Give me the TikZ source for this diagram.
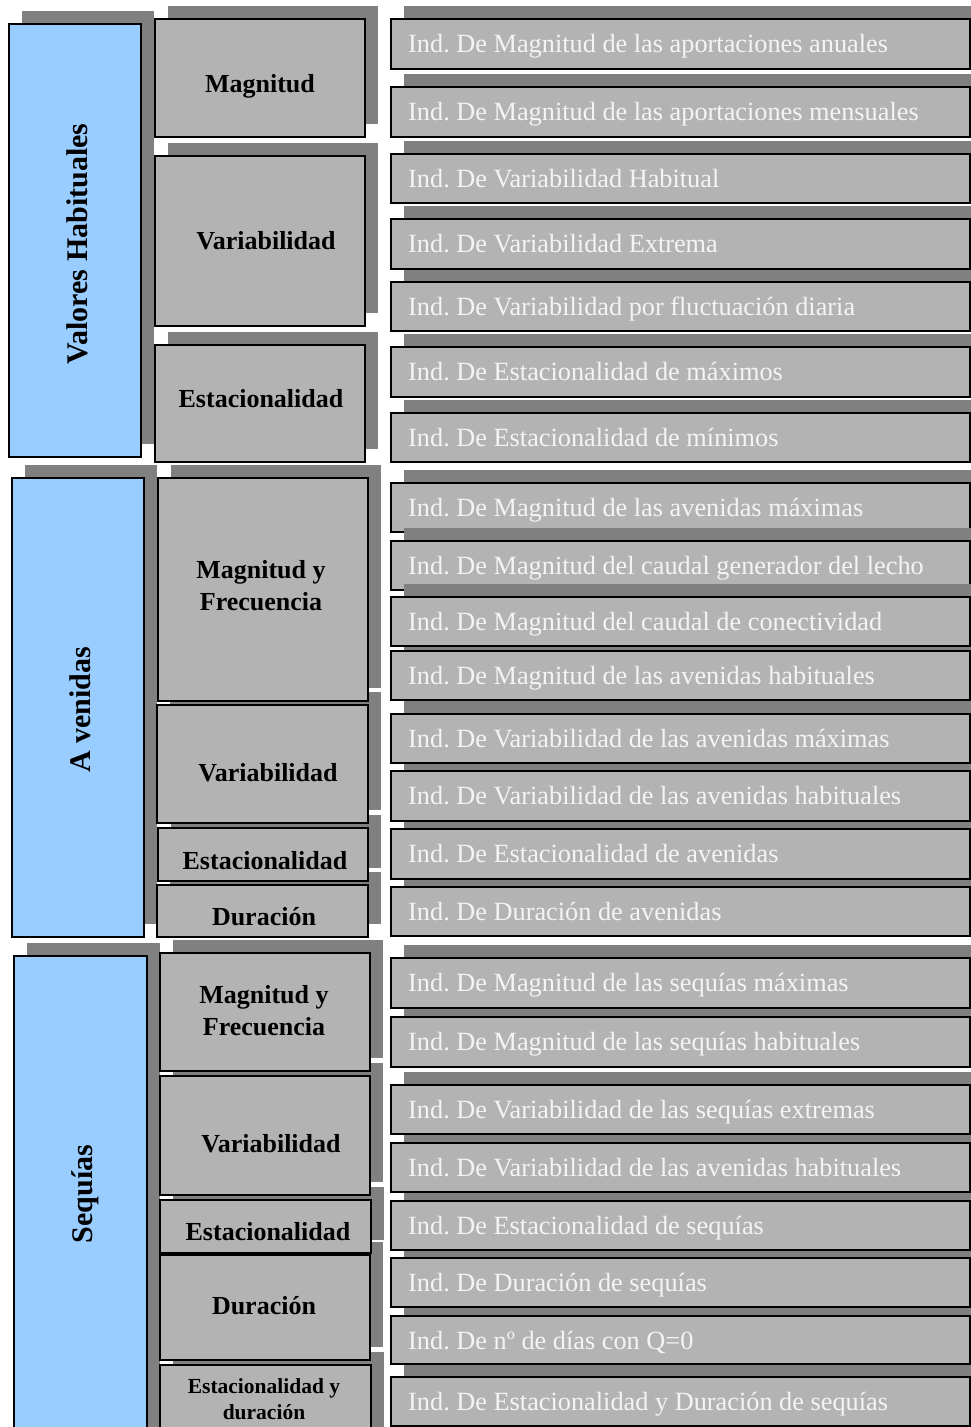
\documentclass[tikz,border=0pt]{standalone}
\usepackage{fontspec}
\setmainfont{Liberation Serif}
\frenchspacing
\definecolor{bluefill}{HTML}{99CCFF}
\definecolor{boxgray}{HTML}{B3B3B3}
\definecolor{shadowgray}{HTML}{808080}
\definecolor{lighttext}{HTML}{F4F4F4}
\tikzset{
  boxbase/.style={draw=black, line width=1.5pt, inner sep=0pt, rectangle},
  bluebox/.style={boxbase, fill=bluefill},
  graybox/.style={boxbase, fill=boxgray},
  shadowfill/.style={fill=shadowgray},
  sidelabel/.style={font=\fontsize{30}{36}\selectfont\bfseries, rotate=90, anchor=base, inner sep=0pt},
  midlabel/.style={font=\fontsize{26}{32}\selectfont\bfseries, anchor=base, inner sep=0pt},
  twolabel/.style={font=\fontsize{26}{32}\selectfont\bfseries, align=center, inner sep=0pt},
  smalllabel/.style={font=\fontsize{21.5}{26}\selectfont\bfseries, align=center, inner sep=0pt},
  indlabel/.style={font=\fontsize{26.3}{32}\selectfont, text=lighttext, anchor=base west, inner sep=0pt},
}
\newif\ifshadowpass
% shadow only
\newcommand\shrect[4]{\fill[shadowfill] ({#1+13},{#2-13}) rectangle ({#3+13},{#4-13});}
% box: shadow in the shadow pass, node in the box pass
\newcommand\bx[6]{%
  \ifshadowpass\shrect{#3}{#4}{#5}{#6}\else
  \node[#2, minimum width={(#5-#3)*1pt}, minimum height={(#6-#4)*1pt}] (#1) at ({(#3+#5)/2},{(#4+#6)/2}) {};\fi}
% label: only in the box pass
\newcommand\lb[1]{\ifshadowpass\else #1\fi}
\newcommand\indbox[4]{%
  \bx{#1}{graybox}{391}{#2}{970}{#3}%
  \lb{\node[indlabel] (#1t) at (408,{#2+33}) {#4};}}
% box whose shadow lies over the box above it
\newcommand\indboxover[4]{%
  \lb{\shrect{391}{#2}{970}{#3}}%
  \indbox{#1}{#2}{#3}{#4}}
\newcommand\diagram{%
% ---------- left column ----------
\bx{vh}{bluebox}{9}{24}{141}{457}
\lb{\node[sidelabel] (vht) at (87,244) {Valores Habituales};}
\bx{av}{bluebox}{12}{478}{144}{937}
\lb{\node[sidelabel] (avt) at (90,710) {A venidas};}
\bx{sq}{bluebox}{14}{956}{147}{1445}
\lb{\node[sidelabel] (sqt) at (92,1194) {Sequías};}
% ---------- middle column ----------
\bx{m1}{graybox}{155}{19}{365}{137}
\lb{\node[midlabel] (m1t) at (260,92) {Magnitud};}
\bx{m2}{graybox}{155}{156}{365}{326}
\lb{\node[midlabel] (m2t) at (266,249) {Variabilidad};}
\bx{m3}{graybox}{155}{345}{365}{462}
\lb{\node[midlabel] (m3t) at (261,407) {Estacionalidad};}
\bx{m4}{graybox}{158}{478}{368}{701}
\lb{\node[twolabel] (m4t) at (261,586) {Magnitud y\\Frecuencia};}
\bx{m5}{graybox}{157}{705}{368}{823}
\lb{\node[midlabel] (m5t) at (268,781) {Variabilidad};}
\bx{m6}{graybox}{158}{828}{368}{881}
\lb{\node[midlabel] (m6t) at (265,869) {Estacionalidad};}
\bx{m7}{graybox}{157}{885}{368}{937}
\lb{\node[midlabel] (m7t) at (264,925) {Duración};}
\bx{m8}{graybox}{160}{953}{370}{1071}
\lb{\node[twolabel] (m8t) at (264,1011) {Magnitud y\\Frecuencia};}
\bx{m9}{graybox}{160}{1076}{370}{1195}
\lb{\node[midlabel] (m9t) at (271,1152) {Variabilidad};}
\bx{m10}{graybox}{160}{1200}{371}{1253}
\lb{\node[midlabel] (m10t) at (268,1240) {Estacionalidad};}
\bx{m11}{graybox}{160}{1255}{370}{1360}
\lb{\node[midlabel] (m11t) at (264,1314) {Duración};}
\bx{m12}{graybox}{160}{1365}{371}{1445}
\lb{\node[smalllabel] (m12t) at (264,1399) {Estacionalidad y\\duración};}
% ---------- right column ----------
\indbox{r1}{19}{69}{Ind. De Magnitud de las aportaciones anuales}
\indbox{r2}{87}{137}{Ind. De Magnitud de las aportaciones mensuales}
\indbox{r3}{154}{203}{Ind. De Variabilidad Habitual}
\indbox{r4}{219}{269}{Ind. De Variabilidad Extrema}
\indbox{r5}{282}{331}{Ind. De Variabilidad por fluctuación diaria}
\indbox{r6}{347}{397}{Ind. De Estacionalidad de máximos}
\indbox{r7}{413}{462}{Ind. De Estacionalidad de mínimos}
\indbox{r8}{483}{532}{Ind. De Magnitud de las avenidas máximas}
\indboxover{r9}{541}{590}{Ind. De Magnitud del caudal generador del lecho}
\indboxover{r10}{597}{646}{Ind. De Magnitud del caudal de conectividad}
\indbox{r11}{651}{700}{Ind. De Magnitud de las avenidas habituales}
\indbox{r12}{714}{763}{Ind. De Variabilidad de las avenidas máximas}
\indbox{r13}{771}{821}{Ind. De Variabilidad de las avenidas habituales}
\indbox{r14}{829}{879}{Ind. De Estacionalidad de avenidas}
\indbox{r15}{887}{936}{Ind. De Duración de avenidas}
\indbox{r16}{958}{1008}{Ind. De Magnitud de las sequías máximas}
\indbox{r17}{1017}{1067}{Ind. De Magnitud de las sequías habituales}
\indbox{r18}{1085}{1134}{Ind. De Variabilidad de las sequías extremas}
\indbox{r19}{1143}{1192}{Ind. De Variabilidad de las avenidas habituales}
\indbox{r20}{1201}{1250}{Ind. De Estacionalidad de sequías}
\indbox{r21}{1258}{1307}{Ind. De Duración de sequías}
\indbox{r22}{1316}{1364}{Ind. De nº de días con Q=0}
\indbox{r23}{1377}{1426}{Ind. De Estacionalidad y Duración de sequías}
}
\begin{document}
\begin{tikzpicture}[x=1pt,y=-1pt]
\useasboundingbox (0,0) rectangle (971,1427);
\fill[white] (0,0) rectangle (971,1427);
\shadowpasstrue
\diagram
\shadowpassfalse
\diagram
\end{tikzpicture}
\end{document}
